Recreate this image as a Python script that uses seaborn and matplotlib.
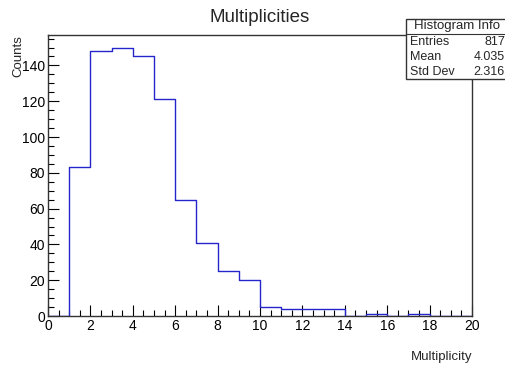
import seaborn as sns
import matplotlib.pyplot as plt
import numpy as np
from matplotlib.patches import Rectangle
from matplotlib.ticker import MultipleLocator

# bin edges 0..20, one bin per integer multiplicity
bin_edges = list(range(0, 21))
multiplicity = list(range(0, 20))
counts = [0, 83, 148, 150, 145, 121, 65, 41, 25, 20,
          5, 4, 4, 4, 0, 1, 0, 1, 0, 0]

stat_names = ["Entries", "Mean", "Std Dev"]
stat_values = ["817", "4.035", "2.316"]

sns.set_style("ticks")
plt.rcParams['font.family'] = ['Liberation Sans', 'DejaVu Sans']

W, H = 506, 367
fig = plt.figure(figsize=(W / 100, H / 100), dpi=100)
ax = fig.add_axes([48 / W, (H - 316) / H, (472 - 48) / W, (316 - 35) / H])

sns.histplot(x=multiplicity, weights=counts, bins=bin_edges, element="step",
             fill=False, color="#2525cc", linewidth=1.0, ax=ax)

ax.set_xlim(0, 20)
ax.set_ylim(0, 157)
ax.xaxis.set_major_locator(MultipleLocator(2))
ax.xaxis.set_minor_locator(MultipleLocator(0.5))
ax.yaxis.set_major_locator(MultipleLocator(20))
ax.yaxis.set_minor_locator(MultipleLocator(5))
ax.tick_params(which="both", direction="in", labelsize=10, colors="black",
               width=0.8, top=False, right=False)
ax.tick_params(which="major", length=8, pad=2)
ax.tick_params(which="minor", length=4)
for s in ax.spines.values():
    s.set_color("#333333")
    s.set_linewidth(1.0)

ax.set_xlabel("")
ax.set_ylabel("")
fig.text(472 / W, 1 - 357 / H, "Multiplicity", ha="right", va="center", fontsize=9.5)
fig.text(18 / W, 1 - 35 / H, "Counts", ha="center", va="top", rotation=90, fontsize=9.5)
fig.text(260 / W, 1 - 18 / H, "Multiplicities", ha="center", va="center", fontsize=13.5)

# stats box
bx0, by0, bx1, by1 = 406, 19, 512, 79
fig.patches.append(Rectangle((bx0 / W, 1 - by1 / H), (bx1 - bx0) / W, (by1 - by0) / H,
                             transform=fig.transFigure, facecolor="white",
                             edgecolor="#333333", linewidth=1.0, zorder=5))
fig.add_artist(plt.Line2D([bx0 / W, bx1 / W], [1 - 33.5 / H, 1 - 33.5 / H],
                          transform=fig.transFigure, color="#333333", linewidth=0.8, zorder=6))
fig.text(457 / W, 1 - 26 / H, "Histogram Info", ha="center", va="center", fontsize=9.5, zorder=7)
for i, (n, v) in enumerate(zip(stat_names, stat_values)):
    y = 1 - (42 + i * 15) / H
    fig.text(410 / W, y, n, ha="left", va="center", fontsize=9, zorder=7)
    fig.text(505 / W, y, v, ha="right", va="center", fontsize=9, zorder=7)

fig.savefig("out.png", dpi=100)
